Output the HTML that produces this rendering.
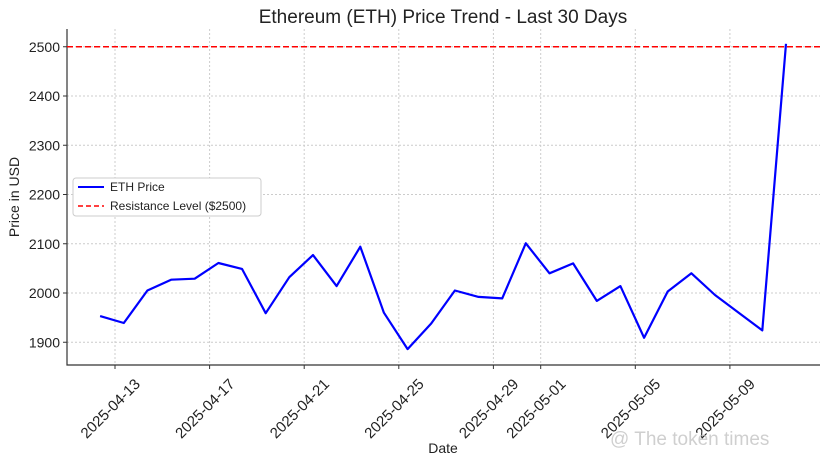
<!DOCTYPE html>
<html><head><meta charset="utf-8"><style>
body{margin:0;background:#fff;}
svg text{font-family:"Liberation Sans","DejaVu Sans",sans-serif;}
</style></head><body>
<svg id="chart" width="828" height="463" xmlns="http://www.w3.org/2000/svg">
<text x="443" y="23" font-size="19" text-anchor="middle" fill="#222">Ethereum (ETH) Price Trend - Last 30 Days</text>
<g id="grid"></g>
<g id="axes"></g>
<g id="marks"></g>
<text transform="translate(19,197) rotate(-90)" font-size="14" text-anchor="middle" fill="#222">Price in USD</text>
<text x="443" y="453" font-size="14" text-anchor="middle" fill="#222">Date</text>
<g>
<rect x="73" y="178" width="188" height="38" rx="3" fill="#fff" stroke="#ccc"/>
<line x1="78" y1="187" x2="104" y2="187" stroke="#0000ff" stroke-width="2"/>
<text x="110" y="191" font-size="12" fill="#222">ETH Price</text>
<line x1="78" y1="206" x2="104" y2="206" stroke="#ff0000" stroke-width="1.5" stroke-dasharray="5,3"/>
<text x="110" y="210" font-size="12" fill="#222">Resistance Level ($2500)</text>
</g>
<text x="610" y="445" font-size="19" fill="#bbb" opacity="0.7">@ The token times</text>
</svg>
<script>
const prices=[1953,1939,2005,2027,2029,2061,2049,1959,2032,2077,2014,2094,1960,1886,1938,2005,1992,1989,2101,2040,2060,1984,2014,1909,2003,2040,1996,1960,1924,2506];
const yTicks=[1900,2000,2100,2200,2300,2400,2500];
const xTickLabels=["2025-04-13","2025-04-17","2025-04-21","2025-04-25","2025-04-29","2025-05-01","2025-05-05","2025-05-09"];
const xTickDays=[1,5,9,13,17,19,23,27];
const resistance=[2500];
const startOffset=0.37;
const L=67,R=820,T=29,B=365;
const X=d=>115+(d-1)*23.65;
const Y=v=>293-(v-2000)*0.4925;
const ns="http://www.w3.org/2000/svg";
function mk(tag,attrs,parent){const e=document.createElementNS(ns,tag);for(const k in attrs)e.setAttribute(k,attrs[k]);parent.appendChild(e);return e;}
const grid=document.getElementById('grid'),axes=document.getElementById('axes'),marks=document.getElementById('marks');
yTicks.forEach(v=>{
  const g=mk('line',{x1:L,x2:R,y1:Y(v),y2:Y(v),stroke:'#ccc','stroke-dasharray':'2,2','stroke-width':1},grid);
  
  
  const t=mk('line',{x1:L-4,x2:L,y1:Y(v),y2:Y(v),stroke:'#333'},axes);
  
  
  const tx=mk('text',{x:L-7,y:Y(v)+5,'font-size':14,'text-anchor':'end',fill:'#222'},axes);
  tx.textContent=v;
  
  
});
xTickDays.forEach((d,i)=>{
  const x=X(d);
  const g=mk('line',{x1:x,x2:x,y1:T,y2:B,stroke:'#ccc','stroke-dasharray':'2,2'},grid);
  
  
  const t=mk('line',{x1:x,x2:x,y1:B,y2:B+4,stroke:'#333'},axes);
  
  
  const tx=mk('text',{transform:`translate(${x+26},${B+20}) rotate(-45)`,'font-size':15,'text-anchor':'end',fill:'#222'},axes);
  tx.textContent=xTickLabels[i];
  
  
});
const sp=mk('path',{d:`M${L},${T}V${B}H${R}`,fill:'none',stroke:'#333','stroke-width':1.2},axes);


const rl=mk('line',{x1:L,x2:R,y1:Y(resistance[0]),y2:Y(resistance[0]),stroke:'#ff0000','stroke-width':1.5,'stroke-dasharray':'6,3'},marks);


const pts=prices.map((v,i)=>`${X(i+startOffset).toFixed(1)},${Y(v).toFixed(1)}`).join(' ');
const pl=mk('polyline',{points:pts,fill:'none',stroke:'#0000ff','stroke-width':2.2,'stroke-linejoin':'round'},marks);


</script>
</body></html>
